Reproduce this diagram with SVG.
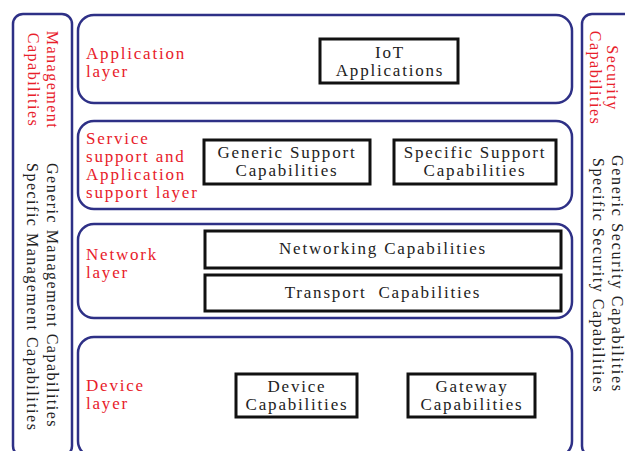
<svg xmlns="http://www.w3.org/2000/svg" width="625" height="451" viewBox="0 0 625 451">
<style>
  .col { fill: #ffffff; stroke: #2e3086; stroke-width: 2.5; }
  .layer { fill: #ffffff; stroke: #2e3086; stroke-width: 2.5; }
  .box { fill: #ffffff; stroke: #111111; stroke-width: 3; }
  .t { font-family: "Liberation Serif", "Times New Roman", "DejaVu Serif", serif; font-size: 17px; letter-spacing: 1.8px; }
  .red { fill: #e8202a; }
  .blk { fill: #222222; }
  .v { font-family: "Liberation Serif", "Times New Roman", "DejaVu Serif", serif; font-size: 16px; letter-spacing: 1.5px; }
  .vs { letter-spacing: 1.7px; }
</style>
<rect width="625" height="451" fill="#ffffff"/>

<g id="management-column">
  <rect class="col" x="13" y="14" width="59" height="442" rx="10"/>
  <text class="v red" text-anchor="middle" transform="translate(47,80) rotate(90)">Management</text>
  <text class="v red" text-anchor="middle" transform="translate(28,80) rotate(90)">Capabilities</text>
  <text class="v blk" transform="translate(47,163) rotate(90)">Generic Management Capabilities</text>
  <text class="v blk" transform="translate(27,163) rotate(90)">Specific Management Capabilities</text>
</g>

<g id="security-column">
  <rect class="col" x="582" y="14" width="60" height="442" rx="10"/>
  <text class="v red" text-anchor="middle" transform="translate(607,78) rotate(90)">Security</text>
  <text class="v red" text-anchor="middle" transform="translate(590,78) rotate(90)">Capabilities</text>
  <text class="v vs blk" transform="translate(612,155) rotate(90)">Generic Security Capabilities</text>
  <text class="v blk" transform="translate(593,158) rotate(90)">Specific Security Capabilities</text>
</g>

<g id="application-layer">
  <rect class="layer" x="78" y="15" width="494" height="88" rx="16"/>
  <text class="t red" x="86" y="59">Application</text>
  <text class="t red" x="86" y="77">layer</text>
</g>
<g id="iot-applications">
  <rect class="box" x="320" y="39" width="138" height="44"/>
  <text class="t blk" x="390" y="58" text-anchor="middle">IoT</text>
  <text class="t blk" x="390" y="76" text-anchor="middle">Applications</text>
</g>

<g id="service-layer">
  <rect class="layer" x="78" y="121" width="494" height="88" rx="16"/>
  <text class="t red" x="86" y="144">Service</text>
  <text class="t red" x="86" y="162">support and</text>
  <text class="t red" x="86" y="180">Application</text>
  <text class="t red" x="86" y="198">support layer</text>
</g>
<g id="generic-support">
  <rect class="box" x="204" y="140" width="166" height="44"/>
  <text class="t blk" x="287" y="158" text-anchor="middle">Generic Support</text>
  <text class="t blk" x="287" y="176" text-anchor="middle">Capabilities</text>
</g>
<g id="specific-support">
  <rect class="box" x="394" y="140" width="162" height="44"/>
  <text class="t blk" x="475" y="158" text-anchor="middle">Specific Support</text>
  <text class="t blk" x="475" y="176" text-anchor="middle">Capabilities</text>
</g>

<g id="network-layer">
  <rect class="layer" x="78" y="224" width="494" height="94" rx="16"/>
  <text class="t red" x="86" y="260">Network</text>
  <text class="t red" x="86" y="278">layer</text>
</g>
<g id="networking-capabilities">
  <rect class="box" x="205" y="231" width="356" height="37"/>
  <text class="t blk" x="383" y="254" text-anchor="middle">Networking Capabilities</text>
</g>
<g id="transport-capabilities">
  <rect class="box" x="205" y="275" width="356" height="36"/>
  <text class="t blk" x="383" y="298" text-anchor="middle" word-spacing="6">Transport Capabilities</text>
</g>

<g id="device-layer">
  <rect class="layer" x="78" y="337" width="494" height="120" rx="16"/>
  <text class="t red" x="86" y="391">Device</text>
  <text class="t red" x="86" y="409">layer</text>
</g>
<g id="device-capabilities">
  <rect class="box" x="236" y="374" width="121" height="43"/>
  <text class="t blk" x="297" y="392" text-anchor="middle">Device</text>
  <text class="t blk" x="297" y="410" text-anchor="middle">Capabilities</text>
</g>
<g id="gateway-capabilities">
  <rect class="box" x="408" y="374" width="127" height="43"/>
  <text class="t blk" x="472" y="392" text-anchor="middle">Gateway</text>
  <text class="t blk" x="472" y="410" text-anchor="middle">Capabilities</text>
</g>

<g id="connectors"></g>
</svg>
